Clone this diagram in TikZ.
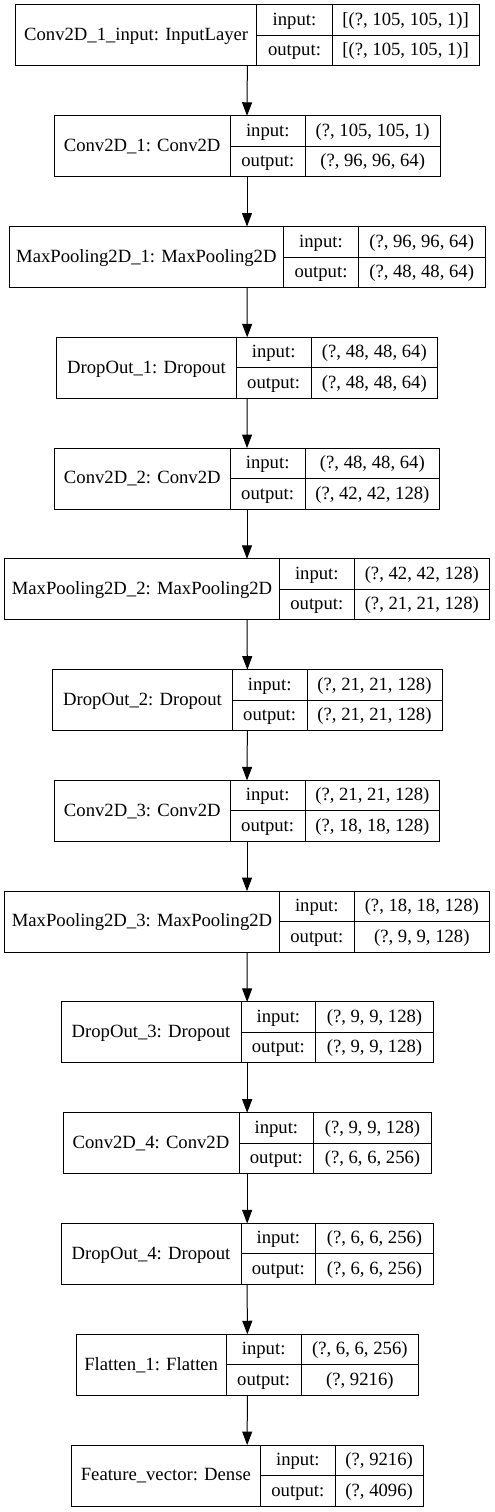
\documentclass[tikz,border=0pt]{standalone}
\usepackage{fontspec}
\setmainfont{Liberation Serif}
\usetikzlibrary{arrows.meta}

\begin{document}
\begin{tikzpicture}[x=1pt,y=-1pt,line width=1pt,>={Triangle[length=13.5pt,width=10pt]},
        rec/.style={inner sep=0pt,outer sep=0pt,minimum height=61pt},
        cell/.style={draw,inner sep=0pt,outer sep=0pt,minimum height=30.5pt,
            font=\fontsize{18.67}{22}\selectfont,text height=14pt,text depth=3.5pt}]
        \useasboundingbox (0,0) rectangle (495,1512);

        % the layer records: name | input:/output: | shapes
        \foreach \i/\lname/\lin/\lout/\xl/\xa/\xb/\xr in {
            0/{Conv2D\_1\_input: InputLayer}/{[(?, 105, 105, 1)]}/{[(?, 105, 105, 1)]}/15.7/256.7/332.3/479,
            1/{Conv2D\_1: Conv2D}/{(?, 105, 105, 1)}/{(?, 96, 96, 64)}/54/230.3/305.3/440,
            2/{MaxPooling2D\_1: MaxPooling2D}/{(?, 96, 96, 64)}/{(?, 48, 48, 64)}/9/283.7/358.3/485,
            3/{DropOut\_1: Dropout}/{(?, 48, 48, 64)}/{(?, 48, 48, 64)}/56.7/236.3/311/437.7,
            4/{Conv2D\_2: Conv2D}/{(?, 48, 48, 64)}/{(?, 42, 42, 128)}/54.3/230.3/305/439.7,
            5/{MaxPooling2D\_2: MaxPooling2D}/{(?, 42, 42, 128)}/{(?, 21, 21, 128)}/4.7/279.3/354.3/489.3,
            6/{DropOut\_2: Dropout}/{(?, 21, 21, 128)}/{(?, 21, 21, 128)}/52.7/232.3/307/442,
            7/{Conv2D\_3: Conv2D}/{(?, 21, 21, 128)}/{(?, 18, 18, 128)}/54.3/230.3/305/439.7,
            8/{MaxPooling2D\_3: MaxPooling2D}/{(?, 18, 18, 128)}/{(?, 9, 9, 128)}/4.7/279.3/354.3/489.3,
            9/{DropOut\_3: Dropout}/{(?, 9, 9, 128)}/{(?, 9, 9, 128)}/61/241/315.7/433.3,
            10/{Conv2D\_4: Conv2D}/{(?, 9, 9, 128)}/{(?, 6, 6, 256)}/63/239/313.7/431.3,
            11/{DropOut\_4: Dropout}/{(?, 6, 6, 256)}/{(?, 6, 6, 256)}/61/241/315.7/433.3,
            12/{Flatten\_1: Flatten}/{(?, 6, 6, 256)}/{(?, 9216)}/76/226.3/301/418.7,
            13/{Feature\_vector: Dense}/{(?, 9216)}/{(?, 4096)}/71/260.7/335/423.3}
        {
                \pgfmathsetmacro\yc{35.5+110.77*\i}
                % whole record
                \node[rec,minimum width={(\xr-\xl)*1pt}] (L\i) at ({(\xl+\xr)/2},\yc) {};
                % name cell
                \node[cell,minimum height=61pt,minimum width={(\xa-\xl)*1pt},anchor=north west]
                    (N\i) at (L\i.north west) {\lname};
                % input / output cells
                \node[cell,minimum width={(\xb-\xa)*1pt},anchor=north west] (I\i) at (N\i.north east) {input:};
                \node[cell,minimum width={(\xb-\xa)*1pt},anchor=north west] (O\i) at (I\i.south west) {output:};
                % shape cells
                \node[cell,minimum width={(\xr-\xb)*1pt},anchor=north west] (IV\i) at (I\i.north east) {\lin};
                \node[cell,minimum width={(\xr-\xb)*1pt},anchor=north west] (OV\i) at (O\i.north east) {\lout};
        }

        % arrows between the layers
        \foreach \i [evaluate=\i as \j using int(\i+1)] in {0,...,12}
                \draw[->] (L\i.south) -- (L\j.north);
\end{tikzpicture}
\end{document}
